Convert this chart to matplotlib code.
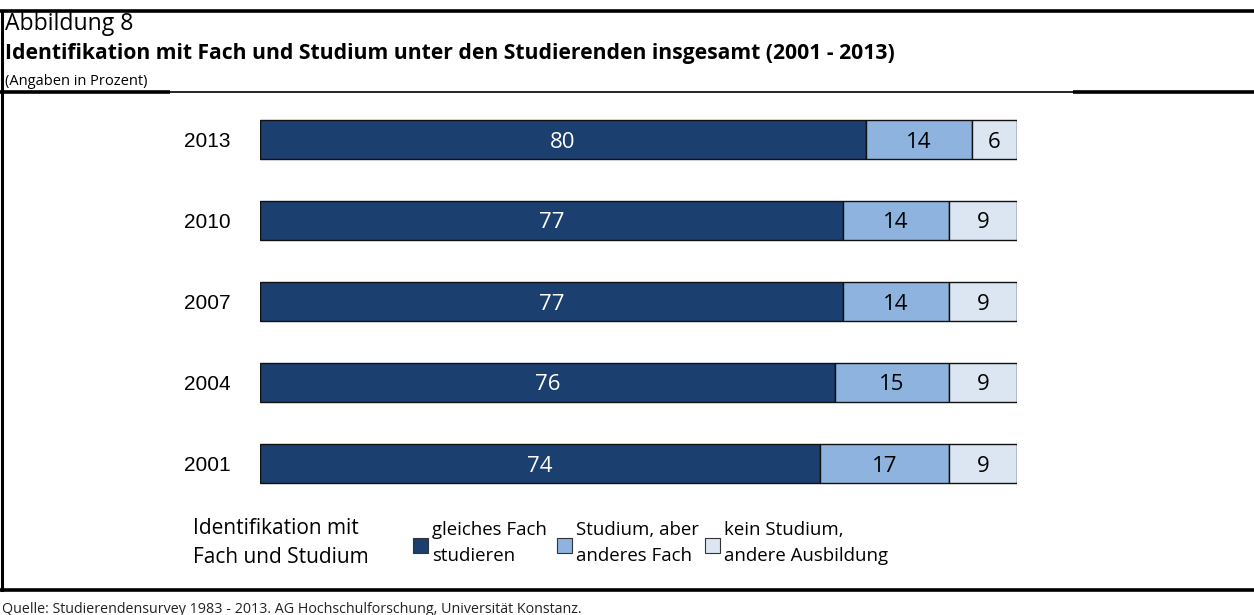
import matplotlib
matplotlib.use('Agg')
import matplotlib.pyplot as plt
from matplotlib.lines import Line2D
from matplotlib.patches import Rectangle

years = ['2001', '2004', '2007', '2010', '2013']
gleiches_fach = [74, 76, 77, 77, 80]
anderes_fach = [17, 15, 14, 14, 14]
andere_ausbildung = [9, 9, 9, 9, 6]

series_labels = ['gleiches Fach\nstudieren', 'Studium, aber\nanderes Fach', 'kein Studium,\nandere Ausbildung']
colors = ['#1b3f6f', '#8db3de', '#dce6f2']
text_colors = ['white', 'black', 'black']

W, H = 1254, 615
fig = plt.figure(figsize=(W / 100, H / 100), dpi=100)


def fx(px):
    return px / W


def fy(py):
    return 1 - py / H


# frame lines
def hline(y, x0, x1, lw):
    fig.add_artist(Line2D([fx(x0), fx(x1)], [fy(y), fy(y)], color='black', lw=lw,
                          transform=fig.transFigure, solid_capstyle='butt'))


hline(11, 0, W, 2.6)
hline(92, 0, W, 1.2)
hline(92, 0, 170, 2.6)
hline(92, 1073, W, 2.6)
hline(590, 0, W, 2.6)
fig.add_artist(Line2D([fx(2), fx(2)], [fy(11), fy(590)], color='black', lw=2.2,
                      transform=fig.transFigure))

# header
fig.text(fx(5), fy(30), 'Abbildung 8', fontsize=16.6, family='Open Sans', va='baseline')
fig.text(fx(5), fy(59), 'Identifikation mit Fach und Studium unter den Studierenden insgesamt (2001 - 2013)',
         fontsize=15.2, family='Open Sans', weight='bold', va='baseline')
fig.text(fx(5), fy(85), '(Angaben in Prozent)', fontsize=10.5, family='Open Sans', va='baseline')
fig.text(fx(2), fy(613), 'Quelle: Studierendensurvey 1983 - 2013. AG Hochschulforschung, Universität Konstanz.',
         fontsize=10.3, family='Open Sans', va='baseline', color='#222222')

# bars
ax = fig.add_axes([fx(260), fy(504), fx(1017) - fx(260), 405 / H])
series = [gleiches_fach, anderes_fach, andere_ausbildung]
left = [0] * len(years)
ypos = list(range(len(years)))
for vals, c, tc in zip(series, colors, text_colors):
    bars = ax.barh(ypos, vals, left=left, height=0.49, color=c, edgecolor='#111111', linewidth=1)
    for b, v in zip(bars, vals):
        ax.text(b.get_x() + b.get_width() / 2, b.get_y() + b.get_height() / 2, str(v),
                ha='center', va='center_baseline', color=tc, fontsize=16, family='Open Sans')
    left = [l + v for l, v in zip(left, vals)]

ax.set_xlim(0, 100)
ax.set_ylim(-0.5, len(years) - 0.5)
ax.set_yticks(ypos)
ax.set_yticklabels(years, fontsize=15, family='Liberation Sans')
ax.tick_params(axis='y', length=0, pad=21.5)
ax.set_xticks([])
for s in ax.spines.values():
    s.set_visible(False)

# legend
fig.text(fx(193), fy(543), 'Identifikation mit\nFach und Studium', fontsize=15, family='Open Sans',
         va='center', linespacing=1.55)
leg_x = [413, 557, 705]
for x, c, lab in zip(leg_x, colors, series_labels):
    fig.add_artist(Rectangle((fx(x), fy(553)), 15 / W, 15 / H, transform=fig.transFigure,
                             facecolor=c, edgecolor='#333333', lw=0.8))
    fig.text(fx(x + 19), fy(543), lab, fontsize=13.4, family='Open Sans', va='center', linespacing=1.62)

fig.savefig('out.png', dpi=100)
